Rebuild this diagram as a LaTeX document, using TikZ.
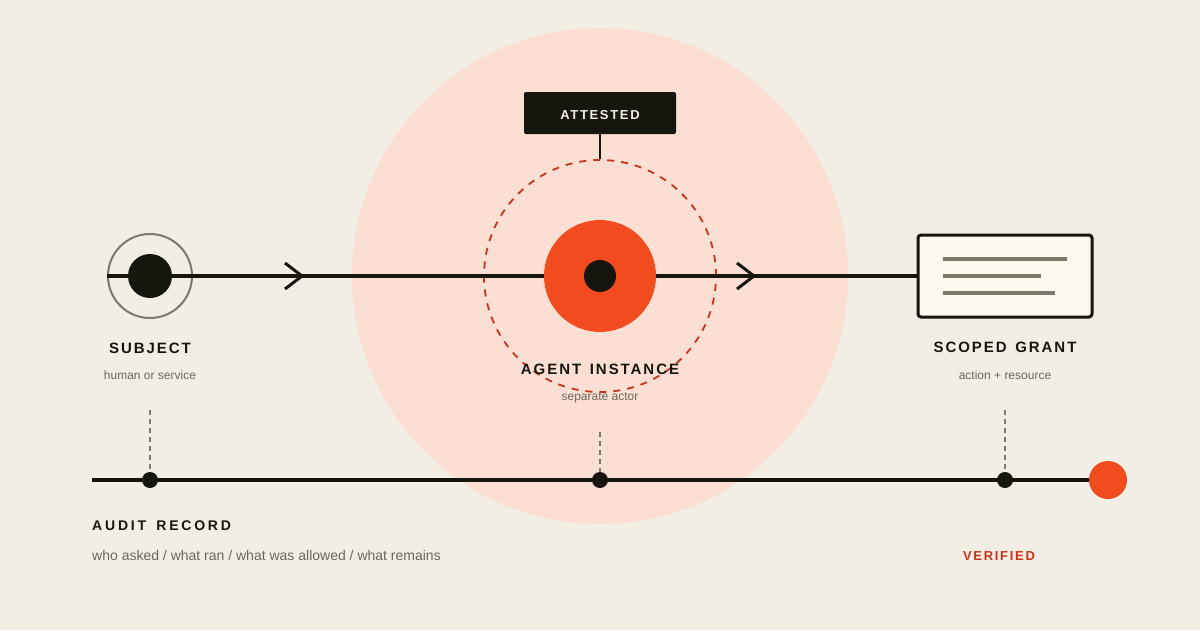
\documentclass[tikz,border=0pt]{standalone}
\usepackage{fontspec}
\setmainfont{Liberation Sans}
\newfontfamily\tagfont[LetterSpace=13]{Liberation Sans}
\newfontfamily\widefont[LetterSpace=20]{Liberation Sans}
\usepackage{xcolor}
\usepackage{tikz}
\usetikzlibrary{positioning,calc}
\definecolor{paper}{HTML}{F2EEE4}
\definecolor{halo}{HTML}{FBDFD2}
\definecolor{ember}{HTML}{F24C1E}
\definecolor{ink}{HTML}{16160F}
\definecolor{stone}{HTML}{7D786E}
\definecolor{rust}{HTML}{C8341A}
\definecolor{muted}{HTML}{6B675E}
\definecolor{card}{HTML}{FBF8F0}
\definecolor{rule}{HTML}{7B7A6A}

\begin{document}
\begin{tikzpicture}[
    x=1pt, y=-1pt,
    dot/.style={circle, fill=ink, inner sep=0pt, minimum size=#1},
    title/.style={font=\tagfont\bfseries\fontsize{15}{18}\selectfont, text=ink, anchor=base, inner sep=0pt},
    sub/.style={font=\fontsize{12}{14}\selectfont, text=muted, anchor=base, inner sep=0pt},
    flow/.style={ink, line width=3.5pt},
    chev/.style={ink, line width=3pt},
    tick/.style={stone, line width=2pt, dash pattern=on 5pt off 4pt},
    bar/.style={rule, line width=3.7pt}
]
    % Background and halo
    \fill[paper] (0,0) rectangle (1200,630);
    \node[circle, fill=halo, minimum size=496, inner sep=0pt] (halo) at (600,276) {};
    \node[circle, draw=rust, line width=1.8pt, dash pattern=on 7pt off 7pt, minimum size=232, inner sep=0pt] (ring) at (600,276) {};

    % Main flow (top row)
    \node[circle, draw=stone, line width=2pt, minimum size=84, inner sep=0pt] (subject) at (150,276) {};
    \node[draw=ink, fill=card, line width=3pt, rounded corners=3pt, minimum width=174, minimum height=82, inner sep=0pt] (grant) at (1005,276) {};
    \draw[flow] (subject.west) -- (grant.west);
    \coordinate (chev1) at (302,276);
    \coordinate (chev2) at (754,276);
    \draw[chev] ($(chev1)+(-17,-13)$) -- (chev1) -- ($(chev1)+(-17,13)$);
    \draw[chev] ($(chev2)+(-17,-13)$) -- (chev2) -- ($(chev2)+(-17,13)$);
    \node[dot=44] (subjdot) at (subject) {};
    \node[circle, fill=ember, minimum size=112, inner sep=0pt] (agent) at (600,276) {};
    \node[dot=32] (agentdot) at (agent) {};

    % Grant card lines
    \draw[bar] ($(grant.west)+(26,-17)$) -- ++(124,0);
    \draw[bar] ($(grant.west)+(26,0)$) -- ++(98,0);
    \draw[bar] ($(grant.west)+(26,17)$) -- ++(112,0);

    % Attested tag
    \node[fill=ink, rounded corners=2pt, minimum width=152, minimum height=42, inner sep=0pt] (attest) at (600,113) {};
    \node[font=\tagfont\bfseries\fontsize{13}{15}\selectfont, text=paper, anchor=base, inner sep=0pt] (attestlbl) at (600,119) {ATTESTED};
    \draw[ink, line width=2pt] (attest.south) -- (ring.north);

    % Labels
    \node[title] (subjlbl) at (150,353) {SUBJECT};
    \node[sub] (subjsub) at (150,379) {human or service};
    \node[title] (agentlbl) at (600,374) {AGENT\kern2.5pt\ INSTANCE};
    \node[sub] (agentsub) at (600,400) {separate actor};
    \node[title] (grantlbl) at (1005,352) {SCOPED\kern2.5pt\ GRANT};
    \node[sub] (grantsub) at (1005,379) {action + resource};

    % Audit record (bottom row)
    \coordinate (auditstart) at (92,480);
    \coordinate (verpos) at (1108,480);
    \draw[flow] (auditstart) -- (verpos);
    \node[dot=16] (a1) at (150,480) {};
    \node[dot=16] (a2) at (600,480) {};
    \node[dot=16] (a3) at (1005,480) {};
    \node[circle, fill=ember, minimum size=38, inner sep=0pt] (verified) at (verpos) {};
    \coordinate (t1) at (150,410);
    \coordinate (t2) at (600,432);
    \coordinate (t3) at (1005,410);
    \draw[tick] (t1) -- (a1.north);
    \draw[tick] (t2) -- (a2.north);
    \draw[tick] (t3) -- (a3.north);

    \node[font=\widefont\bfseries\fontsize{14}{16}\selectfont, text=ink, anchor=base west, inner sep=0pt] (audit) at (92,530) {AUDIT\kern3.5pt\ RECORD};
    \node[font=\fontsize{14}{16}\selectfont, text=muted, anchor=base west, inner sep=0pt] (auditsub) at (92,560) {who asked / what ran / what was allowed / what remains};
    \node[font=\tagfont\bfseries\fontsize{13}{15}\selectfont, text=rust, anchor=base, inner sep=0pt] (verlbl) at (999,560) {VERIFIED};
\end{tikzpicture}
\end{document}
